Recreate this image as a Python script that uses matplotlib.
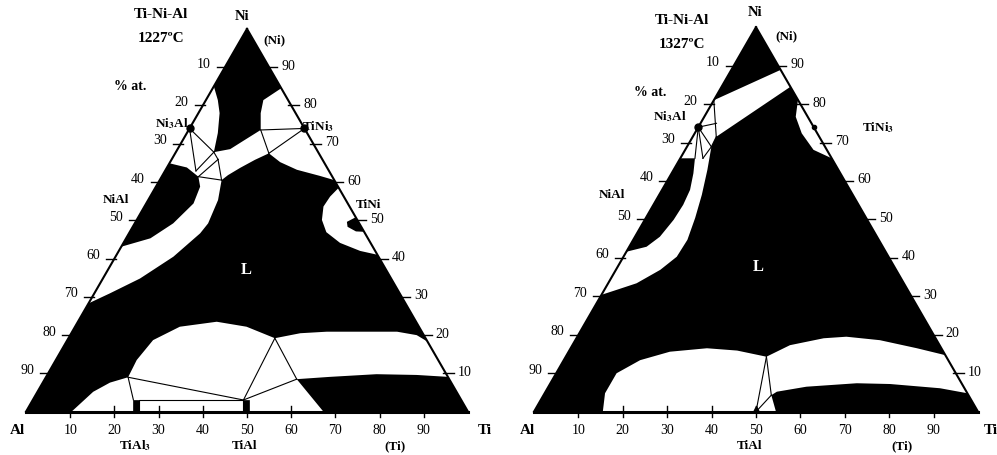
import numpy as np
import matplotlib.pyplot as plt
from matplotlib.patches import Polygon, Rectangle

plt.rcParams['font.family'] = ['Liberation Serif', 'DejaVu Serif']
plt.rcParams['mathtext.fontset'] = 'stix'

S3 = np.sqrt(3) / 2
ticks = [10, 20, 30, 40, 50, 60, 70, 80, 90]

# compositions are (Ti at.%, Ni at.%), Al is the balance

# ---- 1227 C ----
upper_white_1227 = [(0, 85), (2.7, 81.4), (4.8, 78), (7, 72.8), (8.6, 67.8),
                    (11.9, 68.6), (14, 71), (16.3, 73.6),
                    (14.1, 78), (13, 81.4), (15.5, 84.5),
                    (39.5, 60.5), (35.7, 61.6), (29.7, 63.2), (24.9, 65.2), (21.2, 67.5),
                    (18.9, 65.8), (16.6, 63.7), (14.8, 61.8), (14, 60.5),
                    (15.8, 55.3), (16.6, 49.2), (16.1, 46.6), (13.1, 40.5), (8.4, 34.8),
                    (3.5, 30.9), (0, 28.3),
                    (0, 43.1), (5.5, 45.3), (8.7, 49.2), (10.7, 54.4), (10, 58.8),
                    (8.3, 61.4), (4.5, 63.8), (0, 64.9)]
tini_white_1227 = [(41.5, 58.5), (40.7, 56.2), (40.5, 53.6), (41.9, 50.1), (44.5, 46.9),
                   (49, 44.1), (54.6, 42), (59, 41)]
tini_blob_1227 = [(49.2, 50.8), (47.8, 49.6), (48.6, 48.3), (51.1, 47.1), (53, 47)]
lower_white_1227 = [(10.3, 0), (12.6, 5.2), (15.2, 7.6), (18.6, 9), (18.3, 13.5), (19.4, 18.7),
                    (23.7, 22.2), (31.4, 23.5), (38.8, 22.2), (46.7, 19.2), (51.8, 20.5),
                    (57.6, 20.9), (65.9, 20.9), (73.5, 20.9), (78.4, 20), (81.7, 18.3),
                    (90.9, 9.1), (83.6, 9.6), (74.4, 9.8), (64.2, 9.1), (57, 8.5), (67.3, 0)]
tial3_range = (24.3, 25.6)
tial_range_1227 = (49.2, 50.5)
ties_upper_1227 = [((0, 74), (7, 62.9)), ((0, 74), (8.6, 67.8)), ((7, 62.9), (8.6, 67.8)),
                   ((8.3, 61.4), (10.5, 65.9)), ((8.3, 61.4), (14, 60.5)),
                   ((10.5, 65.9), (14, 60.5)), ((8.6, 67.8), (10.5, 65.9)),
                   ((16.3, 73.6), (26, 74)), ((26, 74), (21.2, 67.5)), ((16.3, 73.6), (21.2, 67.5))]
ties_lower_1227 = [((46.7, 19.2), (57, 8.5))]
corner_q4 = (18.6, 9)
corner_q10 = (46.7, 19.2)
corner_q21 = (57, 8.5)
dots_1227 = [(0, 74), (26, 74)]

# ---- 1327 C ----
upper_white_1327 = [(0, 81), (11.1, 88.9), (15.5, 84.5), (5.3, 71.5), (5.5, 68.9),
                    (7.6, 62.9), (9.6, 56.4), (11.1, 50.4), (12.2, 44.7), (12, 40.3),
                    (10, 36.9), (6.4, 33.4), (2.8, 31.7), (0, 30.4),
                    (0, 41.6), (3.9, 42.9), (5.6, 45.5), (6.5, 49.9), (6.7, 53.8),
                    (6.3, 57.7), (4.9, 62), (3.3, 65.9), (0, 65.9)]
tini3_white_1327 = [(18.9, 81.1), (20.6, 76.7), (24.1, 72.4), (28.9, 68.1), (34.1, 65.9)]
lower_white_1327 = [(15.5, 0), (13.6, 4.8), (13.6, 10), (17.2, 13.4), (22.8, 15.6),
                    (30.7, 16.5), (37.8, 15.9), (45.2, 14.3), (49, 17.3), (55.7, 19.1),
                    (60.6, 19.5), (68.6, 18.6), (78, 16.5), (85.3, 14.7), (95.2, 4.8),
                    (88.4, 6.1), (76.6, 7.2), (69, 7.4), (58.1, 6.5), (52.1, 5.2),
                    (51.3, 4.3), (54.5, 0)]
ties_upper_1327 = [((0, 81), (5.3, 71.5)), ((0, 74), (3.6, 75)), ((0, 74), (5.5, 68.9)),
                   ((5.5, 68.9), (5.3, 71.5)), ((0, 74), (3.3, 65.9)), ((0, 74), (5.1, 65.9)),
                   ((5.1, 65.9), (5.5, 68.9))]
ties_lower_1327 = [((45.2, 14.3), (50, 0)), ((45.2, 14.3), (51.3, 4.3)), ((51.3, 4.3), (50, 0))]
dots_1327 = [(0, 74)]
small_dots_1327 = [(26, 74)]
tial_1327 = (50, 0)


def tern(pts):
    p = np.asarray(pts, dtype=float).reshape(-1, 2)
    return np.column_stack([p[:, 0] + p[:, 1] / 2, p[:, 1] * S3])


def line(ax, a, b, lw=0.8):
    xy = tern([a, b])
    ax.plot(xy[:, 0], xy[:, 1], color='k', lw=lw, clip_on=False, zorder=3)


def fill(ax, pts, color):
    ax.add_patch(Polygon(tern(pts), closed=True, fc=color, ec='none', zorder=1))


def frame(ax, ppu):
    s = 1.0 / ppu
    ax.set_xlim(0, 100)
    ax.set_ylim(0, 100 * S3)
    ax.axis('off')
    ax.add_patch(Polygon(tern([(0, 0), (100, 0), (0, 100)]), closed=True, fc='black',
                         ec='none', zorder=0))
    return s


def edges(ax, s):
    line(ax, (0, 0), (0, 100), lw=1.5)
    line(ax, (100, 0), (0, 100), lw=1.5)
    line(ax, (0, 0), (100, 0), lw=2.2)
    for t in ticks:
        x, y = tern([(0, 100 - t)])[0]
        ax.plot([x - 8 * s, x + 2 * s], [y, y], color='k', lw=1, clip_on=False, zorder=4)
        ax.annotate(str(t), (x, y), xytext=(-21, 3), textcoords='offset pixels',
                    ha='center', va='center', fontsize=10)
        x, y = tern([(100 - t, t)])[0]
        ax.plot([x - 3 * s, x + 8 * s], [y, y], color='k', lw=1, clip_on=False, zorder=4)
        ax.annotate(str(t), (x, y), xytext=(19, 1), textcoords='offset pixels',
                    ha='center', va='center', fontsize=10)
        x, y = tern([(t, 0)])[0]
        ax.plot([x, x], [-5 * s, 6 * s], color='k', lw=1, clip_on=False, zorder=4)
        ax.annotate(str(t), (x, y), xytext=(0, -19), textcoords='offset pixels',
                    ha='center', va='center', fontsize=10)


fig = plt.figure(figsize=(9.97, 4.55), dpi=100)

# left panel, 1227 C
axL = fig.add_axes([26 / 997, 43.3 / 455, 442 / 997, 442 * S3 / 455])
s = frame(axL, 4.42)
fill(axL, upper_white_1227, 'white')
fill(axL, tini_white_1227, 'white')
fill(axL, tini_blob_1227, 'black')
fill(axL, lower_white_1227, 'white')
h = 2.65
axL.add_patch(Rectangle((tial3_range[1], 0), tial_range_1227[0] - tial3_range[1], h,
                        fc='white', ec='black', lw=0.8, zorder=2))
for lo, hi in [tial3_range, tial_range_1227]:
    axL.add_patch(Rectangle((lo, 0), hi - lo, h, fc='black', ec='black', lw=0.5, zorder=2))
for a, b in ties_upper_1227 + ties_lower_1227:
    line(axL, a, b)
q4 = tern([corner_q4])[0]
q10 = tern([corner_q10])[0]
q21 = tern([corner_q21])[0]
for p, q in [(q4, (tial3_range[0], h)), (q4, (tial_range_1227[0], h)),
             (q10, (tial_range_1227[0], h)), (q21, (tial_range_1227[0], h))]:
    axL.plot([p[0], q[0]], [p[1], q[1]], color='k', lw=0.8, zorder=3)
d = tern(dots_1227)
axL.plot(d[:, 0], d[:, 1], 'o', color='k', ms=5, zorder=5, clip_on=False)
edges(axL, s)

# right panel, 1327 C
axR = fig.add_axes([534 / 997, 43.3 / 455, 444 / 997, 444 * S3 / 455])
s = frame(axR, 4.44)
fill(axR, upper_white_1327, 'white')
fill(axR, tini3_white_1327, 'white')
fill(axR, lower_white_1327, 'white')
for a, b in ties_upper_1327 + ties_lower_1327:
    line(axR, a, b)
d = tern(dots_1327)
axR.plot(d[:, 0], d[:, 1], 'o', color='k', ms=5, zorder=5, clip_on=False)
d = tern(small_dots_1327)
axR.plot(d[:, 0], d[:, 1], 'o', color='k', ms=3, zorder=5, clip_on=False)
d = tern([tial_1327])
axR.plot(d[:, 0], d[:, 1] + 0.6, '^', color='k', ms=4, zorder=5, clip_on=False)
edges(axR, s)


def label(px, py, txt, size=9.5, weight='bold', color='k'):
    fig.text(px / 997, 1 - py / 455, txt, ha='center', va='center', fontsize=size,
             fontweight=weight, color=color)


# left labels
label(161, 15, 'Ti-Ni-Al', 11)
label(161, 38, '1227ºC', 11)
label(242, 17, 'Ni', 10.5)
label(274, 40, '(Ni)')
label(130, 87, '% at.', 10)
label(172, 124, r'Ni$_\mathbf{3}$Al')
label(318, 127, r'TiNi$_\mathbf{3}$')
label(116, 200, 'NiAl')
label(368, 205, 'TiNi')
label(246, 270, 'L', 12, color='white')
label(17, 431, 'Al', 11)
label(485, 431, 'Ti', 11)
label(135, 446, r'TiAl$_\mathbf{3}$')
label(245, 446, 'TiAl')
label(395, 446, '(Ti)')

# right labels
label(682, 21, 'Ti-Ni-Al', 11)
label(682, 44, '1327ºC', 11)
label(755, 13, 'Ni', 10.5)
label(786, 36, '(Ni)')
label(650, 92, '% at.', 10)
label(670, 117, r'Ni$_\mathbf{3}$Al')
label(878, 128, r'TiNi$_\mathbf{3}$')
label(612, 195, 'NiAl')
label(758, 267, 'L', 12, color='white')
label(527, 431, 'Al', 11)
label(991, 431, 'Ti', 11)
label(750, 446, 'TiAl')
label(902, 446, '(Ti)')

fig.savefig('out.png', dpi=100)
